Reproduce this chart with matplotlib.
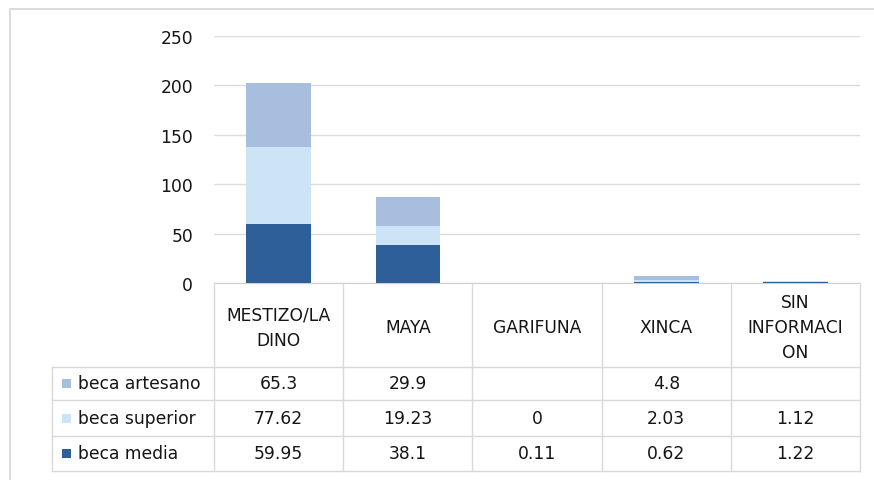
import numpy as np
import matplotlib
matplotlib.use("Agg")
import matplotlib.pyplot as plt
from matplotlib.transforms import blended_transform_factory
from matplotlib.patches import Rectangle

categories = ["MESTIZO/LA\nDINO", "MAYA", "GARIFUNA", "XINCA", "SIN\nINFORMACI\nON"]
series_names = ["beca artesano", "beca superior", "beca media"]
beca_media = [59.95, 38.1, 0.11, 0.62, 1.22]
beca_superior = [77.62, 19.23, 0, 2.03, 1.12]
beca_artesano = [65.3, 29.9, None, 4.8, None]
y_ticks = [0, 50, 100, 150, 200, 250]

colors = {"beca media": "#2F5F98", "beca superior": "#CDE3F6", "beca artesano": "#A7BEDF"}

W, H = 874, 481
fig = plt.figure(figsize=(W / 100, H / 100), dpi=100)
plt.rcParams["font.family"] = ["DejaVu Sans"]
FS = 12.3
TXT = "#151515"

def fy(py):
    return 1 - py / H

def fx(px):
    return px / W

x_left, x_right = 214, 860
y_top, y_zero = 37, 284
ax = fig.add_axes([fx(x_left), fy(y_zero), fx(x_right) - fx(x_left), (y_zero - y_top) / H])

n = len(categories)
x = np.arange(n)
media = np.array(beca_media, dtype=float)
superior = np.array(beca_superior, dtype=float)
artesano = np.array([np.nan if v is None else v for v in beca_artesano], dtype=float)

ax.bar(x, media, width=0.5, color=colors["beca media"], zorder=3)
ax.bar(x, superior, width=0.5, bottom=media, color=colors["beca superior"], zorder=3)
ax.bar(x, np.nan_to_num(artesano), width=0.5, bottom=media + superior,
       color=colors["beca artesano"], zorder=3)

ax.set_xlim(-0.5, n - 0.5)
ax.set_ylim(0, 250)
ax.set_yticks(y_ticks)
ax.set_xticks([])
ax.yaxis.grid(True, color="#DCDCDC", linewidth=1)
ax.set_axisbelow(True)
for s in ["top", "right", "left"]:
    ax.spines[s].set_visible(False)
ax.spines["bottom"].set_color("#D0D0D0")
ax.tick_params(axis="y", length=0, labelsize=FS, pad=15, colors=TXT)

# outer chart frame
fig.patches.append(Rectangle((fx(10), fy(900)), 2.0, fy(10) - fy(900),
                             transform=fig.transFigure, fill=False,
                             edgecolor="#D6D6D6", linewidth=1.2))

# data table below the plot
trans = blended_transform_factory(ax.transData, fig.transFigure)
line_c = "#D9D9D9"
row_edges = [368, 401, 437, 472]
label_left = 52

for py in row_edges:
    fig.add_artist(plt.Line2D([fx(label_left), fx(x_right)], [fy(py), fy(py)],
                              transform=fig.transFigure, color=line_c, linewidth=1))

# vertical separators
for b in np.arange(n + 1) - 0.5:
    fig.add_artist(plt.Line2D([b, b], [fy(y_zero), fy(row_edges[-1])],
                              transform=trans, color=line_c, linewidth=1))
fig.add_artist(plt.Line2D([fx(label_left), fx(label_left)], [fy(row_edges[0]), fy(row_edges[-1])],
                          transform=fig.transFigure, color=line_c, linewidth=1))

# header labels
for i, c in enumerate(categories):
    fig.text(i, fy((y_zero + row_edges[0]) / 2 + 2), c, transform=trans, ha="center", va="center",
             fontsize=FS, color=TXT, linespacing=1.5)

# rows: artesano, superior, media
rows = [("beca artesano", beca_artesano), ("beca superior", beca_superior), ("beca media", beca_media)]
for r, (name, vals) in enumerate(rows):
    yc = (row_edges[r] + row_edges[r + 1]) / 2
    fig.patches.append(Rectangle((fx(62), fy(yc + 4.5)), 9 / W, 9 / H, transform=fig.transFigure,
                                 facecolor=colors[name], edgecolor="none"))
    fig.text(fx(78), fy(yc), name, ha="left", va="center", fontsize=FS, color=TXT)
    for i, v in enumerate(vals):
        if v is None:
            continue
        fig.text(i, fy(yc), f"{v:g}", transform=trans, ha="center", va="center",
                 fontsize=FS, color=TXT)

fig.savefig("out.png", dpi=100, facecolor="white")
